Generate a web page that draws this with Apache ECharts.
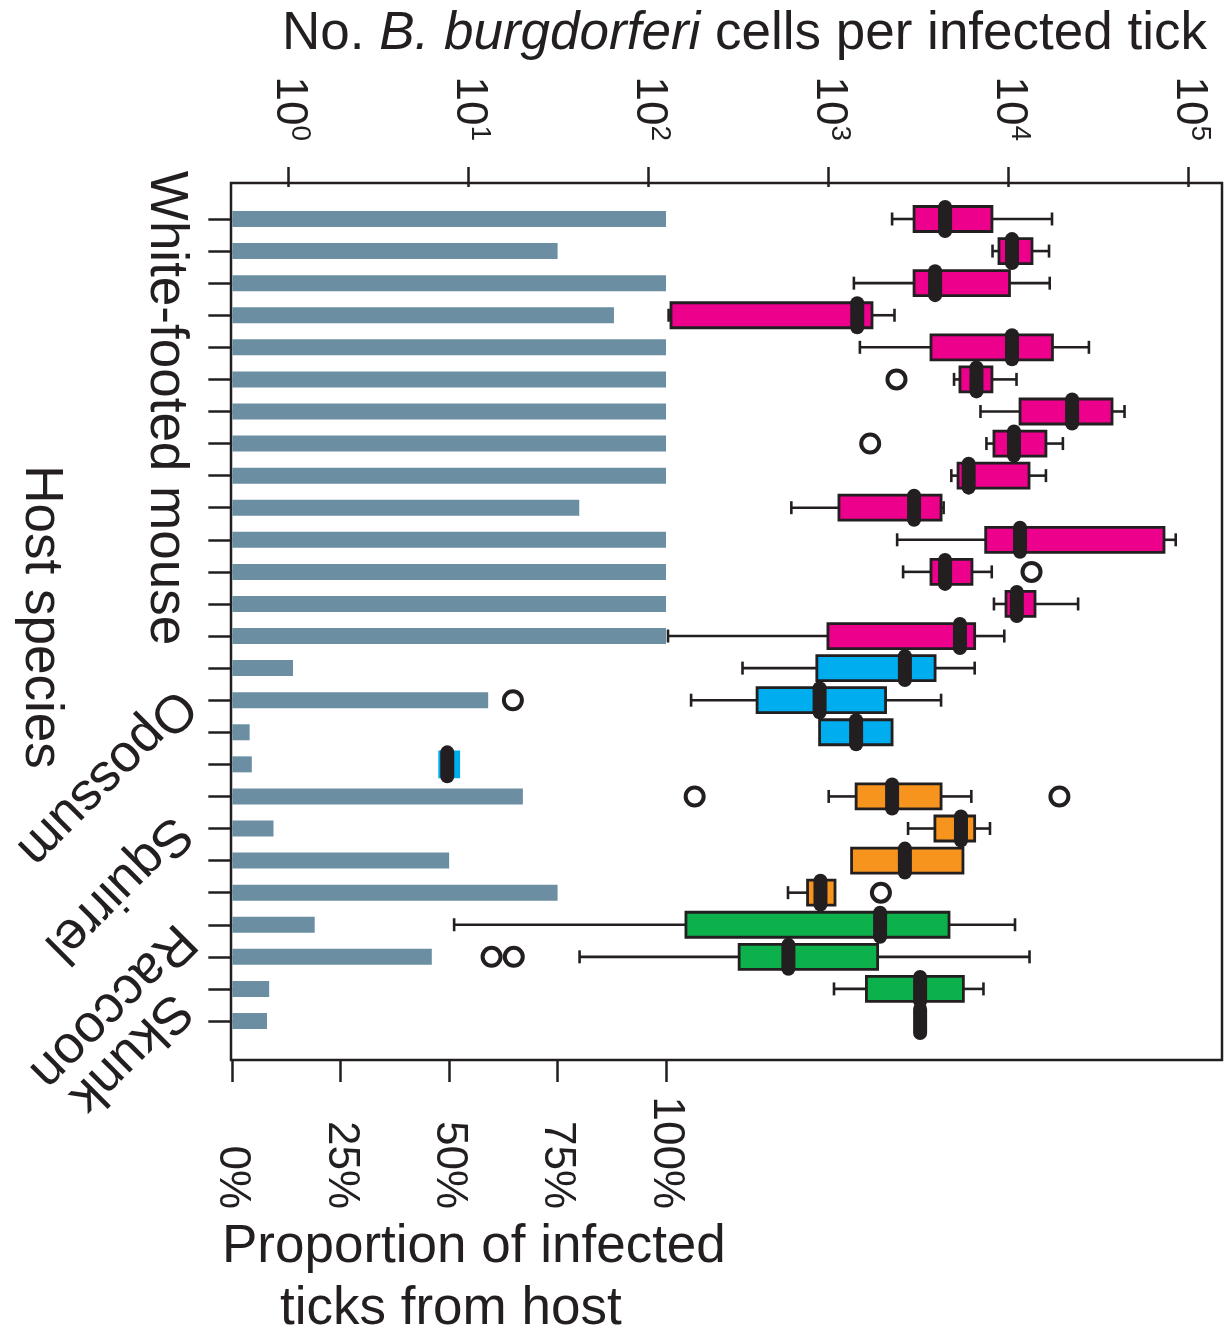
<!DOCTYPE html>
<html><head><meta charset="utf-8">
<script src="https://cdn.jsdelivr.net/npm/echarts@6/dist/echarts.min.js"></script>
<style>html,body{margin:0;padding:0;background:#fff}#c{width:1230px;height:1336px}</style>
</head><body><div id="c"></div>
<script>
// ---------------- data ----------------
const hostSpecies = ['White-footed mouse', 'Opossum', 'Squirrel', 'Raccoon', 'Skunk'];
const hostCounts = [14, 4, 4, 2, 2];          // number of individual hosts (rows) per species
const proportionInfected = [100, 75, 100, 88, 100, 100, 100, 100, 100, 80, 100, 100, 100, 100,
                            14, 59, 4, 4.5, 67, 9.5, 50, 75, 19, 46, 8.5, 8];
const whiskerLow  = [2250, 8130, 1380, 129, 1490, 4970, 6970, 7520, 4800, 620, 2400, 2590, 8280, 128,
                     332, 172, 890, 6.9, 1000, 2760, 1340, 594, 8.3, 41.3, 1070, 3220];
const quartile1   = [2980, 8830, 2980, 133, 3700, 5360, 11560, 8280, 5230, 1140, 7450, 3700, 9660, 990,
                     859, 400, 890, 6.9, 1420, 3890, 1340, 763, 161, 318, 1620, 3220];
const medianCells = [4430, 10430, 3900, 1440, 10430, 6620, 22500, 10700, 5990, 2980, 11560, 4430, 11090, 5360,
                     2650, 890, 1420, 7.6, 2250, 5430, 2650, 900, 1930, 597, 3220, 3220];
const quartile3   = [8070, 13470, 10100, 1740, 17500, 8070, 37500, 16100, 12970, 4210, 72900, 6250, 14000, 6470,
                     3900, 2070, 2250, 8.8, 4210, 6470, 5570, 1084, 4660, 1870, 5600, 3220];
const whiskerHigh = [17400, 16750, 16900, 2320, 27900, 11050, 44000, 20000, 16100, 4350, 84700, 8050, 24300, 9450,
                     6470, 4210, 2250, 8.8, 6200, 7870, 5570, 1084, 10840, 13050, 7240, 3220];
const outlierRows   = [6, 8, 12, 16, 19, 19, 22, 24, 24];
const outlierValues = [2380, 1700, 13390, 17.6, 180, 19130, 1950, 13.4, 17.8];
const logTicks = [1, 10, 100, 1000, 10000, 100000];
const pctTicks = [0, 25, 50, 75, 100];
const speciesColors = ['#ec008c', '#00aeef', '#f7941d', '#0db14b', '#0db14b'];

// ---------------- derived ----------------
const rowGroup = [];
hostCounts.forEach((n, g) => { for (let i = 0; i < n; i++) rowGroup.push(g); });
const rowIds = rowGroup.map((g, i) => i + 1);
const boxData = rowIds.map((r, i) => [r, whiskerLow[i], quartile1[i], medianCells[i], quartile3[i], whiskerHigh[i], rowGroup[i]]);
const barData = rowIds.map((r, i) => [proportionInfected[i], r]);
const outlierData = outlierRows.map((r, i) => [outlierValues[i], r]);

const INK = '#231f20';
const FONT = "'Liberation Sans', Arial, Helvetica, sans-serif";
const TITLE_FONT = '53px ' + FONT;

const chart = echarts.init(document.getElementById('c'), null, {renderer: 'canvas'});

const option = {
  animation: false,
  backgroundColor: '#fff',
  grid: {left: 231, top: 183, width: 991, height: 877, show: true, borderColor: INK, borderWidth: 2.5,
         backgroundColor: 'transparent', containLabel: false, outerBoundsMode: 'none'},
  xAxis: [
    {
      type: 'log', logBase: 10, position: 'top', min: 0.478, max: 153100,
      axisLine: {show: false}, splitLine: {show: false},
      axisTick: {show: true, inside: false, length: 20, customValues: logTicks, lineStyle: {color: INK, width: 2.5}},
      axisLabel: {
        customValues: logTicks, rotate: -90, margin: 42, align: 'right', verticalAlign: 'middle',
        formatter: v => '{b|10}{s|' + Math.round(Math.log10(v)) + '}',
        rich: {
          b: {fontSize: 44, lineHeight: 50, fontFamily: FONT, color: INK},
          s: {fontSize: 28, lineHeight: 28, fontFamily: FONT, color: INK, verticalAlign: 'top'}
        }
      }
    },
    {
      type: 'value', position: 'bottom', min: -0.3, max: 228.2,
      axisLine: {show: false}, splitLine: {show: false},
      axisTick: {show: true, inside: false, length: 22, customValues: pctTicks, lineStyle: {color: INK, width: 2.5}},
      axisLabel: {
        customValues: pctTicks, rotate: -90, margin: 149, align: 'right', verticalAlign: 'middle',
        formatter: '{value}%', fontSize: 44, fontFamily: FONT, color: INK
      }
    }
  ],
  yAxis: {
    type: 'value', inverse: true, min: -0.1222, max: 27.216,
    axisLine: {show: false}, splitLine: {show: false},
    axisTick: {show: true, inside: false, length: 24, customValues: rowIds, lineStyle: {color: INK, width: 2.5}},
    axisLabel: {show: false}
  },
  series: [
    {
      type: 'custom', name: 'proportion', xAxisIndex: 1, yAxisIndex: 0, z: 2,
      encode: {x: 0, y: 1},
      data: barData,
      renderItem(params, api) {
        const p0 = api.coord([0, api.value(1)]);
        const p1 = api.coord([api.value(0), api.value(1)]);
        return {type: 'rect', shape: {x: p0[0], y: p0[1] - 8, width: p1[0] - p0[0], height: 16},
                style: {fill: '#6b8ea3'}};
      }
    },
    {
      type: 'custom', name: 'cells', xAxisIndex: 0, yAxisIndex: 0, z: 3,
      encode: {x: [1, 2, 3, 4, 5], y: 0},
      data: boxData,
      renderItem(params, api) {
        const row = api.value(0);
        const wl = api.coord([api.value(1), row]);
        const lo = api.coord([api.value(2), row]);
        const md = api.coord([api.value(3), row]);
        const hi = api.coord([api.value(4), row]);
        const wh = api.coord([api.value(5), row]);
        const y = md[1];
        const col = speciesColors[api.value(6)];
        const ls = {stroke: INK, lineWidth: 2.6};
        const kids = [];
        if (lo[0] - wl[0] > 0.5) {
          kids.push({type: 'line', shape: {x1: wl[0], y1: y, x2: lo[0], y2: y}, style: ls});
          kids.push({type: 'line', shape: {x1: wl[0], y1: y - 6.5, x2: wl[0], y2: y + 6.5}, style: ls});
        }
        if (wh[0] - hi[0] > 0.5) {
          kids.push({type: 'line', shape: {x1: hi[0], y1: y, x2: wh[0], y2: y}, style: ls});
          kids.push({type: 'line', shape: {x1: wh[0], y1: y - 6.5, x2: wh[0], y2: y + 6.5}, style: ls});
        }
        if (hi[0] - lo[0] > 0.5) {
          const tiny = hi[0] - lo[0] < 24;
          kids.push({type: 'rect', shape: {x: lo[0], y: y - 12.5, width: hi[0] - lo[0], height: 25},
                     style: {fill: col, stroke: tiny ? col : INK, lineWidth: 2.8}});
        }
        kids.push({type: 'rect', shape: {x: md[0] - 7, y: y - 19, width: 14, height: 38, r: 7},
                   style: {fill: INK}});
        return {type: 'group', children: kids};
      }
    },
    {
      type: 'scatter', name: 'outliers', xAxisIndex: 0, yAxisIndex: 0, z: 4,
      data: outlierData, symbol: 'circle', symbolSize: 18,
      itemStyle: {color: '#fff', borderColor: INK, borderWidth: 4, opacity: 1}
    }
  ],
  graphic: [
    {type: 'text', x: 282, y: 34, style: {
      text: '{n|No. }{i|B. burgdorferi}{n| cells per infected tick}',
      align: 'left', verticalAlign: 'middle',
      rich: {
        n: {fontSize: 53, fontFamily: FONT, fill: INK},
        i: {fontSize: 53, fontFamily: FONT, fontStyle: 'italic', fill: INK}
      }}},
    {type: 'text', x: 222, y: 1247, style: {text: 'Proportion of infected', font: TITLE_FONT, fill: INK, align: 'left', verticalAlign: 'middle'}},
    {type: 'text', x: 280, y: 1309, style: {text: 'ticks from host', font: TITLE_FONT, fill: INK, align: 'left', verticalAlign: 'middle'}},
    {type: 'text', x: 41, y: 617, rotation: -Math.PI / 2, style: {text: 'Host species', font: TITLE_FONT, fill: INK, align: 'center', verticalAlign: 'middle'}}
  ]
};

// species labels (layout positions kept separate from data)
const speciesLabelLayout = [
  {x: 166, y: 408, rot: -Math.PI / 2, align: 'center'},
  {x: 186, y: 697, rot: -3 * Math.PI / 4, align: 'left'},
  {x: 182, y: 824, rot: -3 * Math.PI / 4, align: 'left'},
  {x: 186, y: 932, rot: -3 * Math.PI / 4, align: 'left'},
  {x: 182, y: 1001, rot: -3 * Math.PI / 4, align: 'left'}
];
hostSpecies.forEach((name, i) => {
  const L = speciesLabelLayout[i];
  option.graphic.push({type: 'text', x: L.x, y: L.y, rotation: L.rot,
    style: {text: name, font: TITLE_FONT, fill: INK, align: L.align, verticalAlign: 'middle'}});
});

chart.setOption(option);
</script>
</body></html>
